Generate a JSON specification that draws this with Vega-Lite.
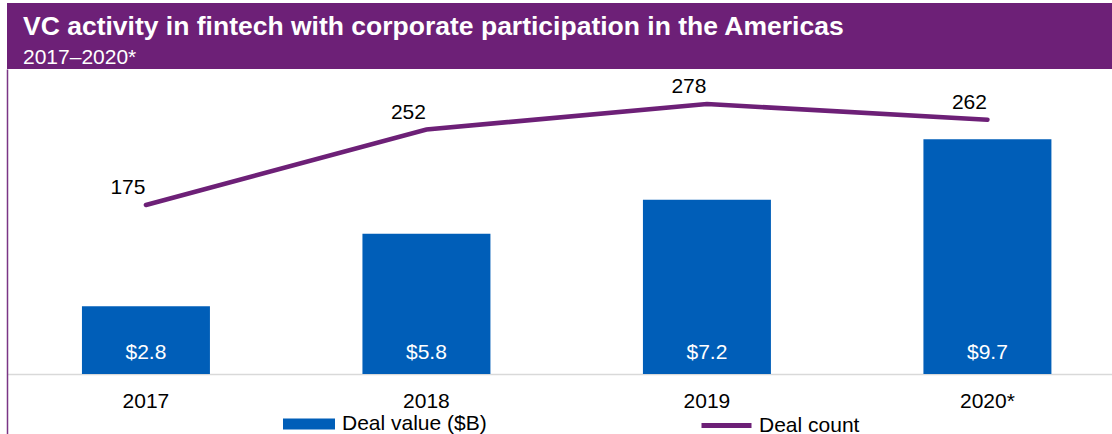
{
  "$schema": "https://vega.github.io/schema/vega-lite/v6.json",
  "padding": {"left": 7, "top": 3, "right": 0, "bottom": 0},
  "background": "white",
  "config": {"font": "Liberation Sans", "view": {"stroke": null}, "concat": {"spacing": 0}},
  "data": {"values": [
    {"year": "2017", "value": 2.8, "count": 175},
    {"year": "2018", "value": 5.8, "count": 252},
    {"year": "2019", "value": 7.2, "count": 278},
    {"year": "2020*", "value": 9.7, "count": 262}
  ]},
  "spacing": 0,
  "vconcat": [
    {
      "width": 1105,
      "height": 66,
      "view": {"fill": "#6D2077", "stroke": null},
      "title": {
        "text": "VC activity in fintech with corporate participation in the Americas",
        "subtitle": "2017–2020*",
        "anchor": "start",
        "frame": "group",
        "orient": "top",
        "offset": -65,
        "dx": 16,
        "color": "white",
        "subtitleColor": "white",
        "font": "Liberation Sans",
        "subtitleFont": "Liberation Sans",
        "fontSize": 26.5,
        "fontWeight": "bold",
        "subtitleFontSize": 21,
        "subtitleFontWeight": "normal",
        "subtitlePadding": 7
      },
      "mark": {"type": "text", "text": ""}
    },
    {
      "width": 1105,
      "height": 365,
      "view": {"stroke": null},
      "encoding": {
        "x": {
          "field": "year",
          "type": "nominal",
          "sort": null,
          "scale": {"paddingInner": 0.5437, "paddingOuter": 0.2416, "align": 0.553},
          "axis": {
            "orient": "bottom",
            "offset": -60,
            "title": null,
            "labelAngle": 0,
            "labelFontSize": 21,
            "labelColor": "black",
            "ticks": false,
            "labelPadding": 16,
            "domainColor": "#d9d9d9",
            "domainWidth": 1.5,
            "grid": false
          }
        }
      },
      "layer": [
        {
          "encoding": {
            "y": {
              "field": "value",
              "type": "quantitative",
              "scale": {"domain": [-2.479, 12.603], "nice": false, "zero": false},
              "axis": {"labels": false, "ticks": false, "grid": false, "title": null, "domainColor": "#7A3585", "domainWidth": 1.5}
            }
          },
          "layer": [
            {
              "mark": {"type": "bar"},
              "encoding": {
                "color": {
                  "datum": "Deal value ($B)",
                  "scale": {"range": ["#005EB8"]},
                  "legend": {
                    "orient": "none",
                    "legendX": 276,
                    "legendY": 395,
                    "title": null,
                    "padding": 0,
                    "symbolType": "M-1,-0.21H1V0.21H-1Z",
                    "symbolSize": 2704,
                    "symbolStrokeWidth": 0,
                    "labelFontSize": 21,
                    "labelColor": "black",
                    "labelOffset": 7,
                    "labelLimit": 400
                  }
                }
              }
            },
            {
              "mark": {"type": "text", "color": "white", "fontSize": 21, "baseline": "alphabetic", "dy": -15},
              "encoding": {
                "y": {"datum": 0, "type": "quantitative"},
                "text": {"field": "value", "type": "quantitative", "format": "$.1f"}
              }
            }
          ]
        },
        {
          "encoding": {
            "y": {
              "field": "count",
              "type": "quantitative",
              "scale": {"domain": [-58.5, 313.7], "nice": false, "zero": false},
              "axis": null
            }
          },
          "layer": [
            {
              "mark": {"type": "line", "strokeWidth": 4.6, "strokeCap": "round"},
              "encoding": {
                "stroke": {
                  "datum": "Deal count",
                  "scale": {"range": ["#6D2077"]},
                  "legend": {
                    "orient": "none",
                    "legendX": 692,
                    "legendY": 395,
                    "title": null,
                    "padding": 0,
                    "symbolType": "stroke",
                    "symbolSize": 2500,
                    "symbolStrokeWidth": 5,
                    "labelFontSize": 21,
                    "labelColor": "black",
                    "labelOffset": 5,
                    "labelLimit": 400
                  }
                }
              }
            },
            {
              "mark": {"type": "text", "color": "black", "fontSize": 21, "baseline": "alphabetic", "dx": -18, "dy": -11},
              "encoding": {
                "text": {"field": "count", "type": "quantitative"}
              }
            }
          ]
        }
      ],
      "resolve": {"scale": {"y": "independent"}}
    }
  ]
}
